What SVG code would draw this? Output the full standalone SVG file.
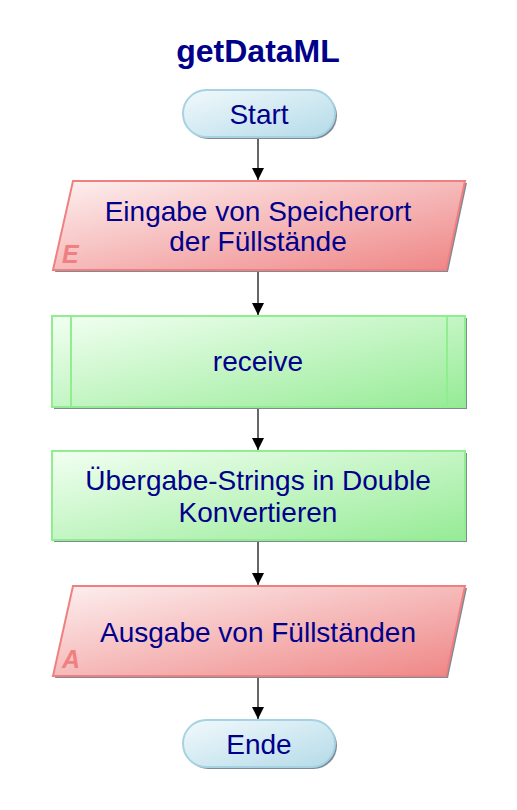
<svg xmlns="http://www.w3.org/2000/svg" width="517" height="810" viewBox="0 0 517 810">
<defs>
<linearGradient id="gT" x1="0" y1="0" x2="1" y2="1"><stop offset="0" stop-color="#f2f9fc"/><stop offset="1" stop-color="#b4dbe8"/></linearGradient>
<linearGradient id="gR" x1="0" y1="0" x2="1" y2="1"><stop offset="0" stop-color="#fdf0f0"/><stop offset="1" stop-color="#ef8585"/></linearGradient>
<linearGradient id="gG" x1="0" y1="0" x2="1" y2="1"><stop offset="0" stop-color="#f2fff2"/><stop offset="1" stop-color="#96eb96"/></linearGradient>
<marker id="ah" markerWidth="12" markerHeight="12" refX="12" refY="6" orient="auto" markerUnits="userSpaceOnUse" viewBox="0 0 12 12"><path d="M0,0 L12,6 L0,12 Z" fill="#000"/></marker>
</defs>
<style>
.t{font-family:"Liberation Sans",Arial,sans-serif;font-size:28px;fill:#00008b;text-anchor:middle}
.title{font-family:"Liberation Sans",Arial,sans-serif;font-size:32px;font-weight:bold;fill:#00008b;text-anchor:middle}
.lbl{font-family:"Liberation Sans",Arial,sans-serif;font-size:25px;font-weight:bold;font-style:italic;fill:#f08080}
.sh{fill:#7f8a96}
.term{fill:url(#gT);stroke:#a6d2e2;stroke-width:2}
.io{fill:url(#gR);stroke:#f08080;stroke-width:2}
.proc{fill:url(#gG);stroke:#90ee90;stroke-width:2}
.c{stroke:#000;stroke-width:1.2;fill:none;marker-end:url(#ah)}
</style>
<rect width="517" height="810" fill="#fff"/>
<text class="title" x="258" y="62">getDataML</text>
<g id="connectors">
<line class="c" x1="258" y1="138" x2="258" y2="180"/>
<line class="c" x1="258" y1="271" x2="258" y2="315"/>
<line class="c" x1="258" y1="407" x2="258" y2="450"/>
<line class="c" x1="258" y1="541" x2="258" y2="585"/>
<line class="c" x1="258" y1="677" x2="258" y2="719"/>
</g>
<g id="start">
<rect class="sh" x="185" y="92" width="152" height="47" rx="23.5"/>
<rect class="term" x="183" y="90" width="152" height="47" rx="23.5"/>
<text class="t" x="259" y="124">Start</text>
</g>
<g id="input">
<polygon class="sh" points="75,183 467,183 448,272 55,272"/>
<polygon class="io" points="73,181 465,181 446,270 53,270"/>
<text class="t" x="258" y="221">Eingabe von Speicherort</text>
<text class="t" x="258" y="251">der Füllstände</text>
<text class="lbl" x="62" y="263">E</text>
</g>
<g id="receive">
<rect class="sh" x="54" y="318" width="413" height="91"/>
<rect class="proc" x="52" y="316" width="413" height="91"/>
<line x1="71" y1="316" x2="71" y2="407" stroke="#90ee90" stroke-width="2"/>
<line x1="447" y1="316" x2="447" y2="407" stroke="#90ee90" stroke-width="2"/>
<text class="t" x="258" y="371">receive</text>
</g>
<g id="convert">
<rect class="sh" x="54" y="453" width="413" height="89"/>
<rect class="proc" x="52" y="451" width="413" height="89"/>
<text class="t" x="258" y="490">Übergabe-Strings in Double</text>
<text class="t" x="258" y="522">Konvertieren</text>
</g>
<g id="output">
<polygon class="sh" points="75,588 467,588 448,678 55,678"/>
<polygon class="io" points="73,586 465,586 446,676 53,676"/>
<text class="t" x="258" y="642">Ausgabe von Füllständen</text>
<text class="lbl" x="62" y="668">A</text>
</g>
<g id="ende">
<rect class="sh" x="185" y="722" width="152" height="47" rx="23.5"/>
<rect class="term" x="183" y="720" width="152" height="47" rx="23.5"/>
<text class="t" x="259" y="754">Ende</text>
</g>
</svg>
